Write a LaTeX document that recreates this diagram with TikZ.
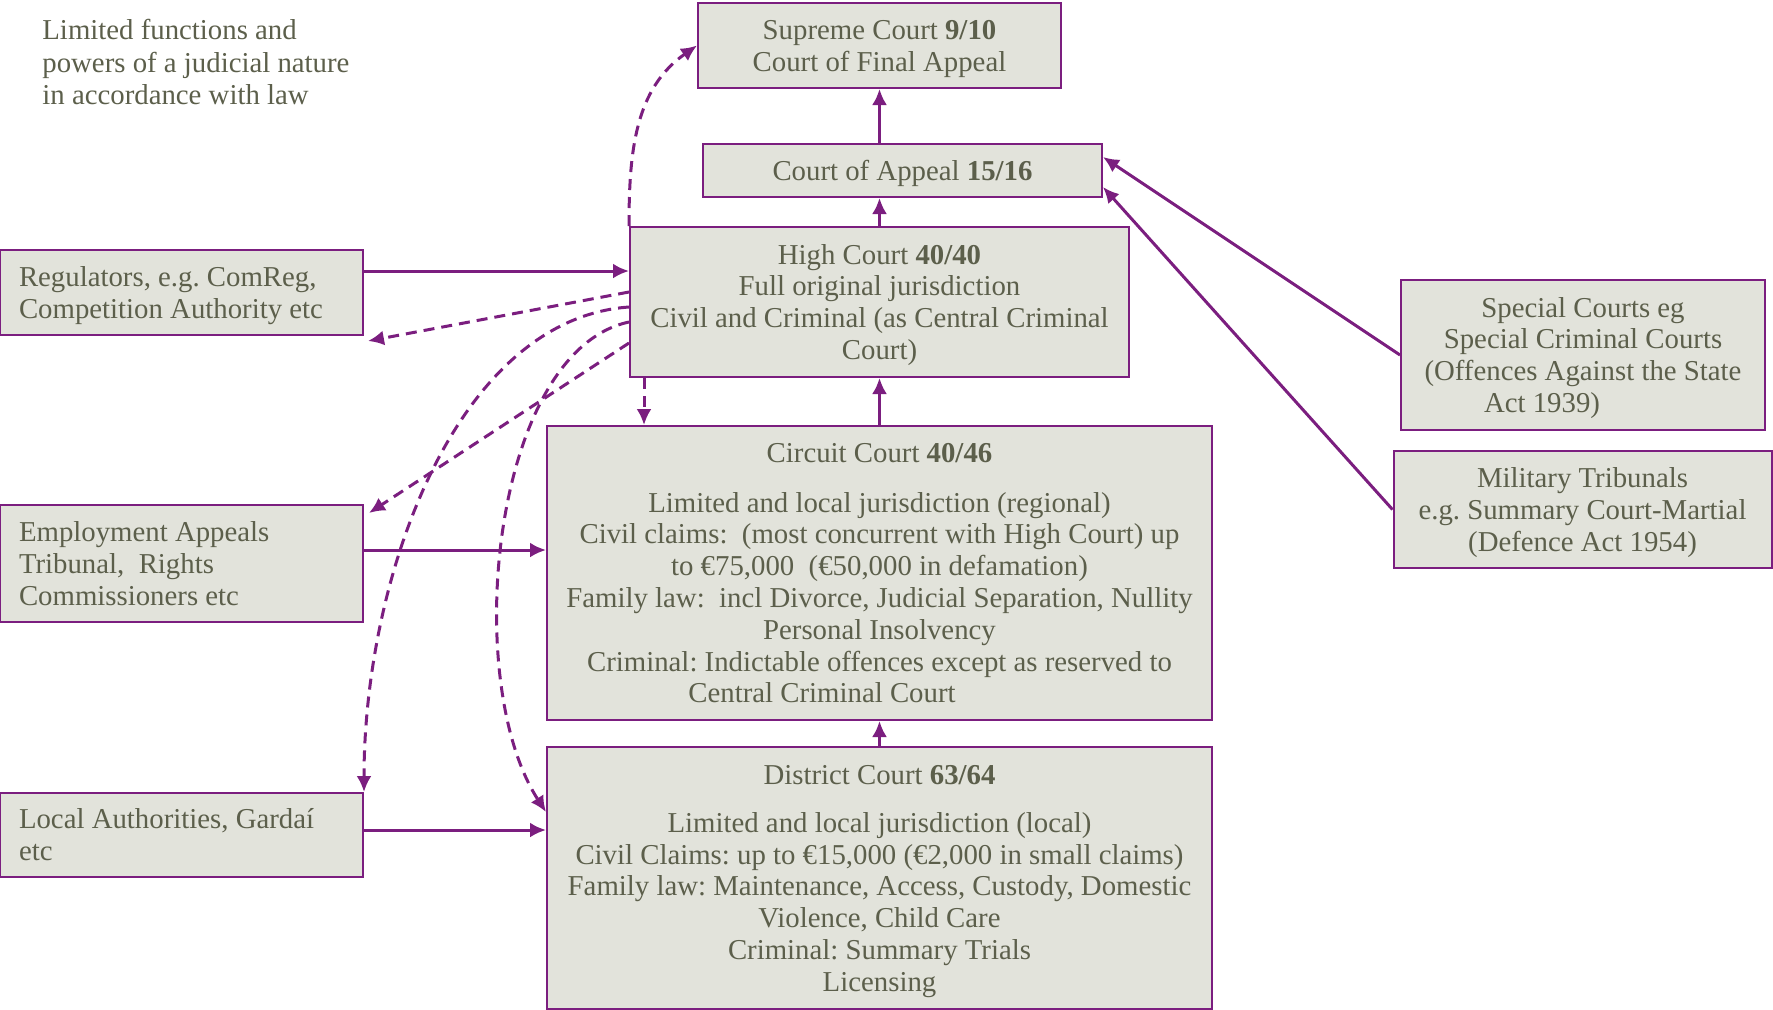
\documentclass[tikz,border=0pt]{standalone}
\usepackage{fontspec}
\setmainfont{Liberation Serif}
\usepackage{xcolor}
\usetikzlibrary{arrows.meta,calc}

\definecolor{courtfill}{HTML}{E2E3DB}
\definecolor{courtline}{HTML}{7B1E7F}
\definecolor{courttext}{HTML}{5C5F4B}

\tikzset{
  court/.style={draw=courtline, line width=1pt, fill=courtfill, text=courttext,
    align=flush center, inner ysep=0pt, inner xsep=2pt,
    font=\fontsize{14.4}{15.9}\selectfont\frenchspacing,
    execute at begin node={\rule{0pt}{13.3pt}},
    execute at end node={\rule[-3.5pt]{0pt}{3.5pt}}},
  sidebox/.style={court, align=flush left, text width=162.5pt, inner xsep=9.5pt},
  arr/.style={courtline, line width=1.5pt, -{Latex[length=8pt,width=7.5pt]}},
  dasharr/.style={arr, dash pattern=on 5.5pt off 3.5pt}
}

\begin{document}
\begin{tikzpicture}[x=0.5pt, y=-0.5pt]
  \useasboundingbox (0,0) rectangle (1773,1009);

  % main ladder of courts
  \node[court, text width=177.5pt, minimum height=42.5pt] (supreme) at (879.5,45.5)
    {Supreme Court \textbf{9/10}\\Court of Final Appeal};
  \node[court, text width=195.5pt, minimum height=26.5pt] (appeal) at (902.5,170.5)
    {Court of Appeal \textbf{15/16}};
  \node[court, text width=245.5pt, minimum height=75pt] (high) at (879.5,302)
    {High Court \textbf{40/40}\\Full original jurisdiction\\
     Civil and Criminal (as Central Criminal\\Court)};
  \node[court, text width=328.5pt, minimum height=147pt] (circuit) at (879.5,573)
    {Circuit Court \textbf{40/46}\\[8.7pt]
     Limited and local jurisdiction (regional)\\
     Civil claims:~ (most concurrent with High Court) up\\
     to €75,000~ (€50,000 in defamation)\\
     Family law:~ incl Divorce, Judicial Separation, Nullity\\
     Personal Insolvency\\
     Criminal: Indictable offences except as reserved to\\
     Central Criminal Court\hspace*{57.5pt}};
  \node[court, text width=328.5pt, minimum height=131pt] (district) at (879.5,878)
    {District Court \textbf{63/64}\\[8pt]
     Limited and local jurisdiction (local)\\
     Civil Claims: up to €15,000 (€2,000 in small claims)\\
     Family law: Maintenance, Access, Custody, Domestic\\
     Violence, Child Care\\
     Criminal: Summary Trials\\
     Licensing};

  % bodies on the left
  \node[sidebox, minimum height=42.5pt] (reg) at (181.5,292.5)
    {Regulators, e.g. ComReg,\\Competition Authority etc};
  \node[sidebox, minimum height=58.5pt] (emp) at (181.5,563.5)
    {Employment Appeals\\Tribunal,~ Rights\\Commissioners etc};
  \node[sidebox, minimum height=42pt] (local) at (181.5,835)
    {Local Authorities, Gardaí\\etc};

  % special courts on the right
  \node[court, text width=178pt, minimum height=75pt] (special) at (1583,355)
    {Special Courts eg\\Special Criminal Courts\\(Offences Against the State\\
     Act 1939)\hspace*{41pt}};
  \node[court, text width=185pt, minimum height=58.5pt] (military) at (1582.5,509.5)
    {Military Tribunals\\e.g. Summary Court-Martial\\(Defence Act 1954)};

  \node[text=courttext, align=left, anchor=west, inner sep=0pt,
    font=\fontsize{14.4}{16.2}\selectfont] (intro) at (42,62)
    {Limited functions and\\powers of a judicial nature\\in accordance with law};

  % appeals upwards
  \draw[arr] (appeal.north -| supreme.south) -- (supreme.south);
  \draw[arr] (high.north) -- (high.north |- appeal.south);
  \draw[arr] (circuit.north) -- (high.south);
  \draw[arr] (district.north) -- (circuit.south);
  \draw[arr] ([yshift=10.75pt]reg.east) -- ([yshift=10.75pt]reg.east -| high.west);
  \draw[arr] ([yshift=6.75pt]emp.east) -- ([yshift=6.75pt]emp.east -| circuit.west);
  \draw[arr] ([yshift=2.5pt]local.east) -- ([yshift=2.5pt]local.east -| district.west);
  \draw[arr] (special.west) -- ($(appeal.east)+(0,-13.5)$);
  \draw[arr] (military.west) -- ($(appeal.east)+(0,16.5)$);

  % dashed links from the High Court
  \draw[dasharr] (high.north west) to[out=90,in=215] (supreme.west);
  \draw[dasharr] ($(high.west)+(0,-10)$) -- ($(reg.south east)+(4,5)$);
  \draw[dasharr] ($(high.west)+(0,5)$) to[out=184,in=90,out looseness=0.8] (local.north east);
  \draw[dasharr] ($(high.west)+(0,20)$)
    to[out=192,in=123,out looseness=0.72,in looseness=0.81] ($(district.west)+(0,-66)$);
  \draw[dasharr] ($(high.west)+(0,41)$) -- ($(emp.north east)+(5,9)$);
  \draw[dasharr] ([xshift=7.5pt]high.south west) -- ([xshift=7.5pt]high.south west |- circuit.north);
\end{tikzpicture}
\end{document}
